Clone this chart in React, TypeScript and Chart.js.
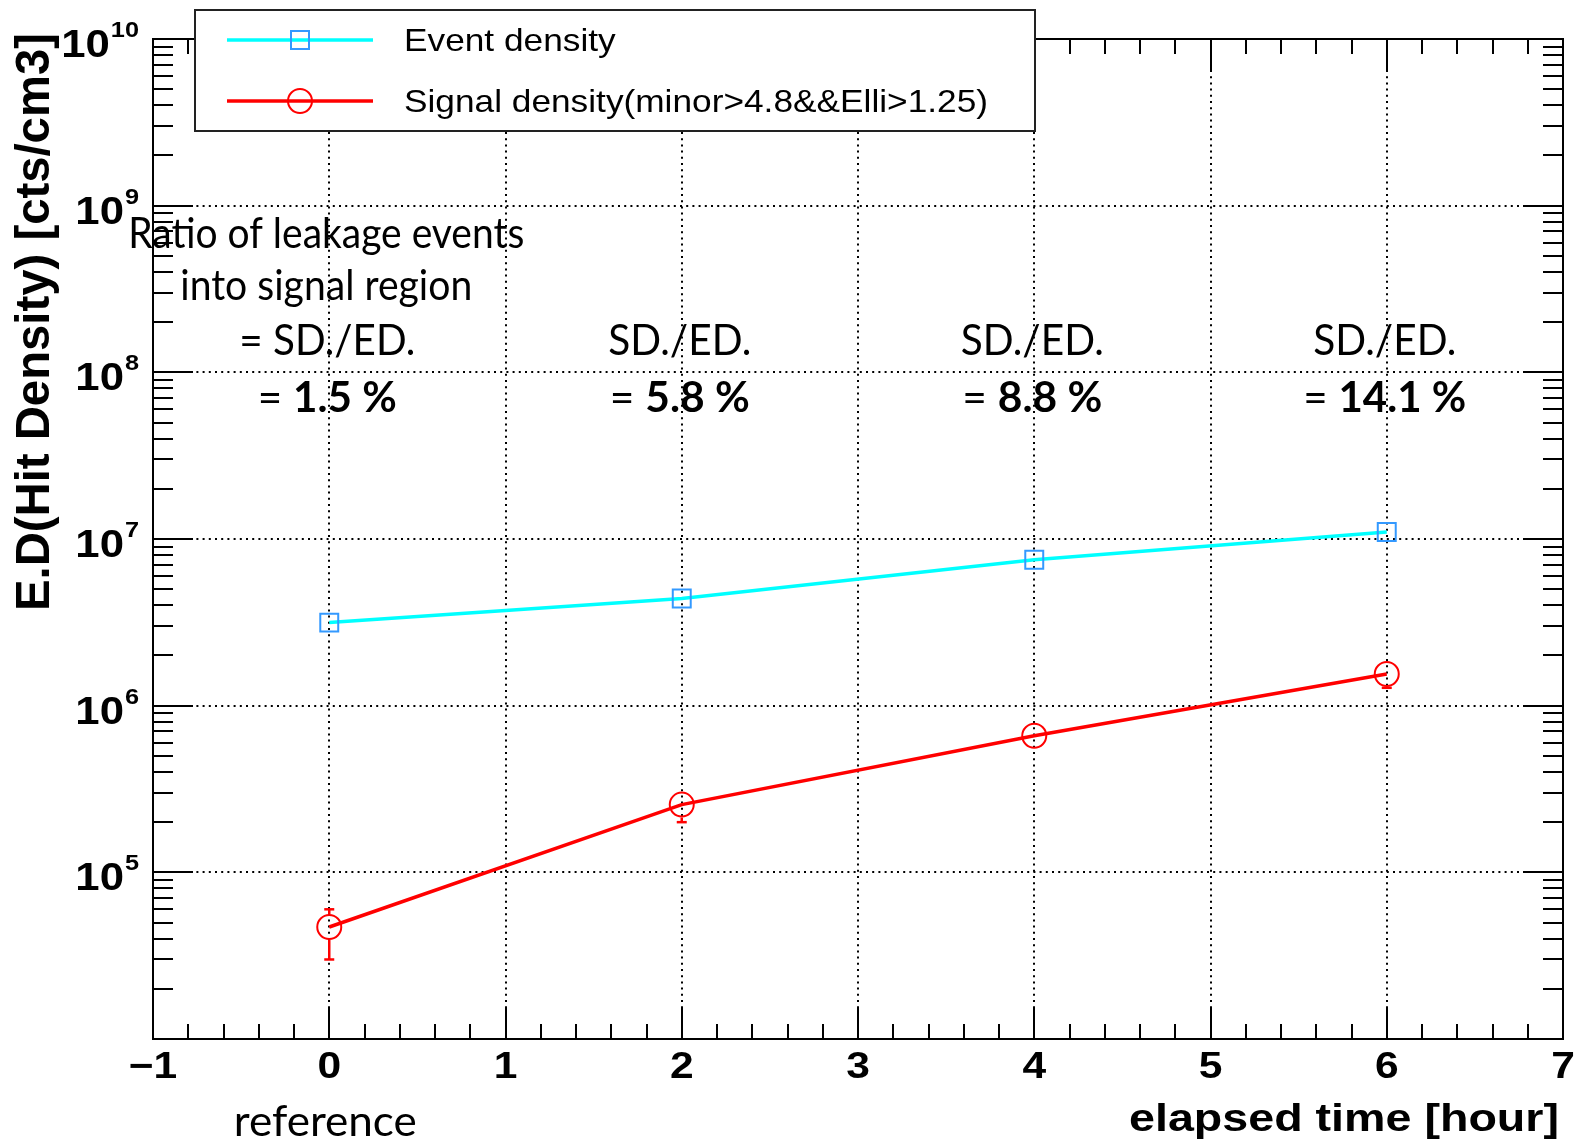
import React, { useEffect, useRef } from "react";
import { Chart, registerables } from "chart.js";

Chart.register(...registerables);

// Elapsed time of each measurement [hour]
const HOURS = [0, 2, 4, 6];
// Event density [cts/cm3]
const EVENT_DENSITY = [3.15e6, 4.4e6, 7.5e6, 1.1e7];
// Signal density after the minor/ellipticity cuts [cts/cm3], with its error range
const SIGNAL_DENSITY = [4.7e4, 2.55e5, 6.6e5, 1.55e6];
const SIGNAL_LOW = [3.0e4, 2.0e5, 6.1e5, 1.28e6];
const SIGNAL_HIGH = [6.0e4, 3.05e5, 7.1e5, 1.75e6];

// Axis ticks
const X_MAJOR = [-1, 0, 1, 2, 3, 4, 5, 6, 7];
const X_TICK_LABELS = ["\u22121", "0", "1", "2", "3", "4", "5", "6", "7"];
const Y_DECADES = [4, 5, 6, 7, 8, 9, 10];
const Y_LABEL_DECADES = [5, 6, 7, 8, 9, 10];

// Texts
const LEGEND_LABELS = ["Event density", "Signal density(minor>4.8&&Elli>1.25)"];
const X_TITLE = "elapsed time [hour]";
const Y_TITLE = "E.D(Hit Density) [cts/cm3]";
const NOTE_HEADER = ["Ratio of leakage events", "into signal region"];
const NOTE_RATIO = "SD./ED.";
const REFERENCE_LABEL = "reference";

// Styles
const CYAN = "#00ffff";
const BLUE = "#3399ff";
const RED = "#ff0000";
const ROOT_FONT = '"Liberation Sans", Arial, Helvetica, sans-serif';
const NOTE_FONT = 'Lato, "Noto Sans", sans-serif';
const STRETCH = 1.15;

// Set widths of the note lines (slide text box typography)
const NOTE_HEADER_WIDTHS = [396, 292];
const NOTE_RATIO_WIDTHS = [176, 143, 143, 143];
const NOTE_VALUE_WIDTHS = [139, 140, 140, 163];
const REFERENCE_WIDTH = 183;

const X_MIN = -1;
const X_MAX = 7;
const Y_MIN = 1e4;
const Y_MAX = 1e10;

function measure(ctx: CanvasRenderingContext2D, s: string, font: string) {
  ctx.save();
  ctx.font = font;
  const w = ctx.measureText(s).width;
  ctx.restore();
  return w;
}

function drawText(
  ctx: CanvasRenderingContext2D,
  s: string,
  x: number,
  y: number,
  font: string,
  align: CanvasTextAlign,
  sx = 1
) {
  ctx.save();
  ctx.font = font;
  ctx.fillStyle = "#000";
  ctx.textAlign = align;
  ctx.textBaseline = "alphabetic";
  ctx.translate(x, y);
  ctx.scale(sx, 1);
  ctx.fillText(s, 0, 0);
  ctx.restore();
}

// Draws a centred line made of regular / bold runs, squeezed or widened to a set width.
function drawRuns(
  ctx: CanvasRenderingContext2D,
  runs: { t: string; bold: boolean }[],
  cx: number,
  y: number,
  size: number,
  width: number
) {
  const fonts = runs.map((r) => `${r.bold ? "bold " : ""}${size}px ${NOTE_FONT}`);
  const raw = runs.map((r, i) => measure(ctx, r.t, fonts[i]));
  const rawTotal = raw.reduce((a, b) => a + b, 0);
  const sx = width / rawTotal;
  let x = cx - width / 2;
  runs.forEach((r, i) => {
    drawText(ctx, r.t, x, y, fonts[i], "left", sx);
    x += raw[i] * sx;
  });
}

function seg(ctx: CanvasRenderingContext2D, x1: number, y1: number, x2: number, y2: number) {
  ctx.beginPath();
  ctx.moveTo(x1, y1);
  ctx.lineTo(x2, y2);
  ctx.stroke();
}

const rootStylePlugin = {
  id: "rootStyle",
  beforeDatasetsDraw(chart: any) {
    const { ctx, chartArea: a, scales } = chart;
    const xs = scales.x;
    const ys = scales.y;
    ctx.save();
    ctx.strokeStyle = "#000";
    ctx.lineWidth = 2;
    ctx.setLineDash([2, 4.2]);
    X_MAJOR.forEach((v) => {
      if (v <= X_MIN || v >= X_MAX) return;
      const px = Math.round(xs.getPixelForValue(v));
      seg(ctx, px, a.top, px, a.bottom);
    });
    Y_DECADES.forEach((d) => {
      const v = Math.pow(10, d);
      if (v <= Y_MIN || v >= Y_MAX) return;
      const py = Math.round(ys.getPixelForValue(v));
      seg(ctx, a.left, py, a.right, py);
    });
    ctx.restore();
  },
  afterDatasetsDraw(chart: any) {
    const { ctx, chartArea: a, scales } = chart;
    const xs = scales.x;
    const ys = scales.y;

    // error bars on the signal points, drawn outside the marker
    ctx.save();
    ctx.strokeStyle = RED;
    ctx.lineWidth = 2.5;
    const r = 13;
    HOURS.forEach((h, i) => {
      const px = xs.getPixelForValue(h);
      const pc = ys.getPixelForValue(SIGNAL_DENSITY[i]);
      const ph = ys.getPixelForValue(SIGNAL_HIGH[i]);
      const pl = ys.getPixelForValue(SIGNAL_LOW[i]);
      if (pc - ph > r) {
        seg(ctx, px, pc - r, px, ph);
        seg(ctx, px - 5, ph, px + 5, ph);
      }
      if (pl - pc > r) {
        seg(ctx, px, pc + r, px, pl);
        seg(ctx, px - 5, pl, px + 5, pl);
      }
    });
    ctx.restore();

    // frame and ticks
    ctx.save();
    ctx.strokeStyle = "#000";
    ctx.lineWidth = 2;
    ctx.strokeRect(a.left, a.top, a.right - a.left, a.bottom - a.top);
    for (let i = 0; i < X_MAJOR.length - 1; i++) {
      for (let k = 0; k < 5; k++) {
        const v = X_MAJOR[i] + (k * (X_MAJOR[i + 1] - X_MAJOR[i])) / 5;
        if (v <= X_MIN) continue;
        const px = Math.round(xs.getPixelForValue(v));
        const len = k === 0 ? 31 : 15;
        seg(ctx, px, a.bottom, px, a.bottom - len);
        seg(ctx, px, a.top, px, a.top + len);
      }
    }
    for (let j = 0; j < Y_DECADES.length; j++) {
      const base = Math.pow(10, Y_DECADES[j]);
      for (let m = 1; m <= 9; m++) {
        const v = base * m;
        if (v <= Y_MIN || v >= Y_MAX) continue;
        const py = Math.round(ys.getPixelForValue(v));
        const len = m === 1 ? 40 : 20;
        seg(ctx, a.left, py, a.left + len, py);
        seg(ctx, a.right, py, a.right - len, py);
      }
    }
    ctx.restore();
  },
  afterDraw(chart: any) {
    const { ctx, chartArea: a, scales } = chart;
    const xs = scales.x;
    const ys = scales.y;

    // x tick labels
    X_MAJOR.forEach((v, i) => {
      drawText(ctx, X_TICK_LABELS[i], xs.getPixelForValue(v), a.bottom + 39, `bold 37px ${ROOT_FONT}`, "center", STRETCH);
    });

    // y tick labels 10^n
    const labelRight = a.left - 14;
    Y_LABEL_DECADES.forEach((d) => {
      const py = ys.getPixelForValue(Math.pow(10, d));
      const supFont = `bold 22px ${ROOT_FONT}`;
      const mainFont = `bold 38px ${ROOT_FONT}`;
      const sup = String(d);
      const supW = measure(ctx, sup, supFont) * STRETCH;
      drawText(ctx, sup, labelRight - supW, py - 2, supFont, "left", STRETCH);
      drawText(ctx, "10", labelRight - supW - 1, py + 18, mainFont, "right", STRETCH);
    });

    // axis titles
    const xtFont = `bold 39px ${ROOT_FONT}`;
    const xtW = measure(ctx, X_TITLE, xtFont);
    drawText(ctx, X_TITLE, a.right - 4, a.bottom + 92, xtFont, "right", 430 / xtW);

    const ytFont = `bold 41px ${ROOT_FONT}`;
    const ytW = measure(ctx, Y_TITLE, ytFont);
    ctx.save();
    ctx.translate(49, a.top - 6);
    ctx.rotate(-Math.PI / 2);
    ctx.scale(578 / ytW, STRETCH);
    ctx.font = ytFont;
    ctx.fillStyle = "#000";
    ctx.textAlign = "right";
    ctx.textBaseline = "alphabetic";
    ctx.fillText(Y_TITLE, 0, 0);
    ctx.restore();

    // legend box
    ctx.save();
    ctx.fillStyle = "#fff";
    ctx.fillRect(195, 10, 840, 121);
    ctx.strokeStyle = "#222";
    ctx.lineWidth = 2;
    ctx.strokeRect(195, 10, 840, 121);
    const rows = [40, 101];
    ctx.lineWidth = 3.5;
    ctx.strokeStyle = CYAN;
    seg(ctx, 227, rows[0], 373, rows[0]);
    ctx.strokeStyle = RED;
    seg(ctx, 227, rows[1], 373, rows[1]);
    ctx.lineWidth = 2;
    ctx.strokeStyle = BLUE;
    ctx.strokeRect(291, rows[0] - 9, 18, 18);
    ctx.strokeStyle = RED;
    ctx.beginPath();
    ctx.arc(300, rows[1], 12, 0, Math.PI * 2);
    ctx.stroke();
    ctx.restore();
    const lgFont = `32px ${ROOT_FONT}`;
    const lgScale = 584 / measure(ctx, LEGEND_LABELS[1], lgFont);
    drawText(ctx, LEGEND_LABELS[0], 404, rows[0] + 11, lgFont, "left", lgScale);
    drawText(ctx, LEGEND_LABELS[1], 404, rows[1] + 11, lgFont, "left", lgScale);

    // leakage-ratio notes, one column per measurement
    const noteSize = 42;
    const c0 = xs.getPixelForValue(HOURS[0]) - 3;
    drawRuns(ctx, [{ t: NOTE_HEADER[0], bold: false }], c0, 248, noteSize, NOTE_HEADER_WIDTHS[0]);
    drawRuns(ctx, [{ t: NOTE_HEADER[1], bold: false }], c0, 300, noteSize, NOTE_HEADER_WIDTHS[1]);
    HOURS.forEach((h, i) => {
      const cx = xs.getPixelForValue(h) - 2;
      const ratio = ((SIGNAL_DENSITY[i] / EVENT_DENSITY[i]) * 100).toFixed(1) + " %";
      const head = i === 0 ? "= " + NOTE_RATIO : NOTE_RATIO;
      drawRuns(ctx, [{ t: head, bold: false }], cx, 355, noteSize, NOTE_RATIO_WIDTHS[i]);
      drawRuns(ctx, [{ t: "= ", bold: false }, { t: ratio, bold: true }], cx, 412, noteSize, NOTE_VALUE_WIDTHS[i]);
    });
    drawRuns(ctx, [{ t: REFERENCE_LABEL, bold: false }], xs.getPixelForValue(HOURS[0]) - 4, 1136, noteSize, REFERENCE_WIDTH);
  },
};

export default function App() {
  const ref = useRef<HTMLCanvasElement>(null);

  useEffect(() => {
    const canvas = ref.current;
    if (!canvas) return;
    const chart = new Chart(canvas, {
      type: "scatter",
      data: {
        datasets: [
          {
            label: LEGEND_LABELS[0],
            data: HOURS.map((h, i) => ({ x: h, y: EVENT_DENSITY[i] })),
            showLine: true,
            borderColor: CYAN,
            borderWidth: 3.5,
            pointStyle: "rect",
            pointRadius: 12.7,
            pointHoverRadius: 12.7,
            pointBorderColor: BLUE,
            pointBackgroundColor: "rgba(0,0,0,0)",
            pointBorderWidth: 2,
          },
          {
            label: LEGEND_LABELS[1],
            data: HOURS.map((h, i) => ({ x: h, y: SIGNAL_DENSITY[i] })),
            showLine: true,
            borderColor: RED,
            borderWidth: 3.5,
            pointStyle: "circle",
            pointRadius: 12,
            pointHoverRadius: 12,
            pointBorderColor: RED,
            pointBackgroundColor: "rgba(0,0,0,0)",
            pointBorderWidth: 2,
          },
        ],
      },
      options: {
        responsive: false,
        animation: false,
        devicePixelRatio: 1,
        events: [],
        layout: { padding: { left: 153, top: 39, right: 16, bottom: 105 } },
        scales: {
          x: { type: "linear", min: X_MIN, max: X_MAX, display: false },
          y: { type: "logarithmic", min: Y_MIN, max: Y_MAX, display: false },
        },
        plugins: { legend: { display: false }, tooltip: { enabled: false } },
      },
      plugins: [rootStylePlugin],
    });
    if (document.fonts && document.fonts.ready) {
      document.fonts.ready.then(() => chart.draw());
    }
    return () => chart.destroy();
  }, []);

  return (
    <div style={{ position: "absolute", left: 0, top: 0, width: 1579, height: 1144, background: "#fff" }}>
      <canvas ref={ref} width={1579} height={1144} style={{ display: "block" }} />
    </div>
  );
}
